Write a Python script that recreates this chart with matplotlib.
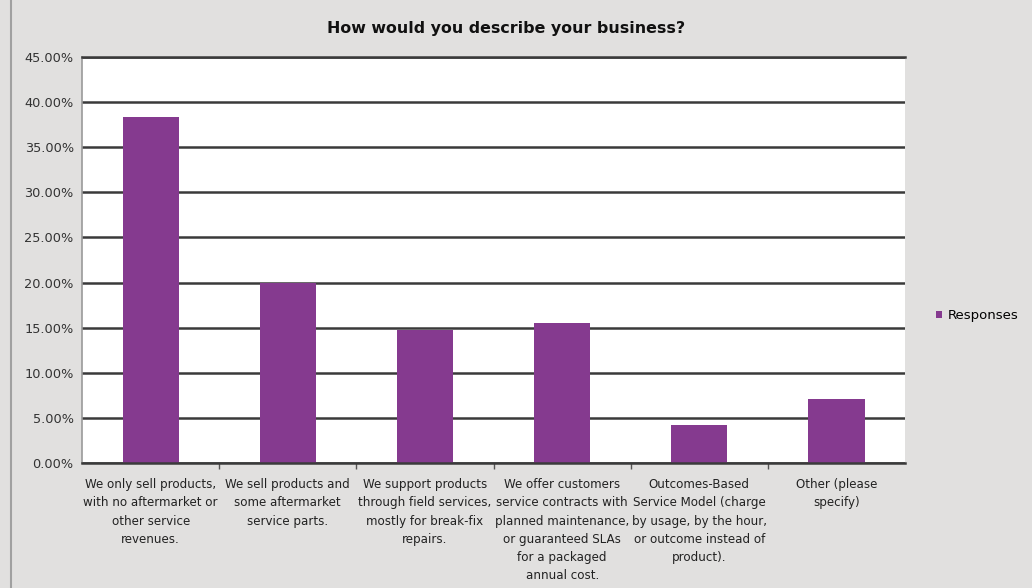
import matplotlib
matplotlib.use("Agg")
import matplotlib.pyplot as plt
from matplotlib.lines import Line2D
from matplotlib.ticker import FixedLocator, FuncFormatter

categories = [
    "We only sell products,\nwith no aftermarket or\nother service\nrevenues.",
    "We sell products and\nsome aftermarket\nservice parts.",
    "We support products\nthrough field services,\nmostly for break-fix\nrepairs.",
    "We offer customers\nservice contracts with\nplanned maintenance,\nor guaranteed SLAs\nfor a packaged\nannual cost.",
    "Outcomes-Based\nService Model (charge\nby usage, by the hour,\nor outcome instead of\nproduct).",
    "Other (please\nspecify)",
]
responses = [38.4, 19.9, 14.7, 15.5, 4.2, 7.1]
yticks = [0, 5, 10, 15, 20, 25, 30, 35, 40, 45]
title = "How would you describe your business?"
series_name = "Responses"

bg = "#e1e0df"
bar_color = "#853a8f"
grid_color = "#3a3a3a"

fig = plt.figure(figsize=(10.32, 5.88), dpi=100, facecolor=bg)
ax = fig.add_axes([0.0795, 0.2126, 0.7975, 0.6904])
ax.set_facecolor("white")

x = list(range(len(categories)))
ax.bar(x, responses, width=0.41, color=bar_color, zorder=3, label=series_name)

ax.set_xlim(-0.5, len(categories) - 0.5)
ax.set_ylim(0, 45)
ax.set_yticks(yticks)
ax.yaxis.set_major_formatter(FuncFormatter(lambda v, p: f"{v:.2f}%"))
ax.grid(axis="y", color=grid_color, linewidth=1.8, zorder=1)
ax.tick_params(axis="y", length=0, labelsize=9.3, colors="#333333", pad=6)

ax.set_xticks(x)
ax.set_xticklabels(categories, fontsize=8.6, linespacing=1.52, color="#222222")
ax.tick_params(axis="x", which="major", length=0, pad=11)
ax.xaxis.set_minor_locator(FixedLocator([i + 0.5 for i in range(len(categories) - 1)]))
ax.tick_params(axis="x", which="minor", length=4, color="#555555", width=1)

ax.spines["right"].set_visible(False)
for s in ["top", "bottom"]:
    ax.spines[s].set_color(grid_color)
    ax.spines[s].set_linewidth(1.8)
    ax.spines[s].set_zorder(4)
ax.spines["left"].set_color("#9a9a9a")
ax.spines["left"].set_linewidth(1.2)

fig.text(0.49, 0.952, title, ha="center", va="center", fontsize=11.4,
         fontweight="bold", color="#111111")

fig.add_artist(Line2D([0.011, 0.011], [0.0, 1.0], color="#a0a0a0", linewidth=1.5))

handles, labels = ax.get_legend_handles_labels()
fig.legend(handles, labels, loc="center left", bbox_to_anchor=(0.895, 0.463),
           frameon=False, fontsize=9.5, handlelength=0.5, handleheight=0.5,
           handletextpad=0.4)

fig.savefig("out.png", dpi=100, facecolor=bg)
